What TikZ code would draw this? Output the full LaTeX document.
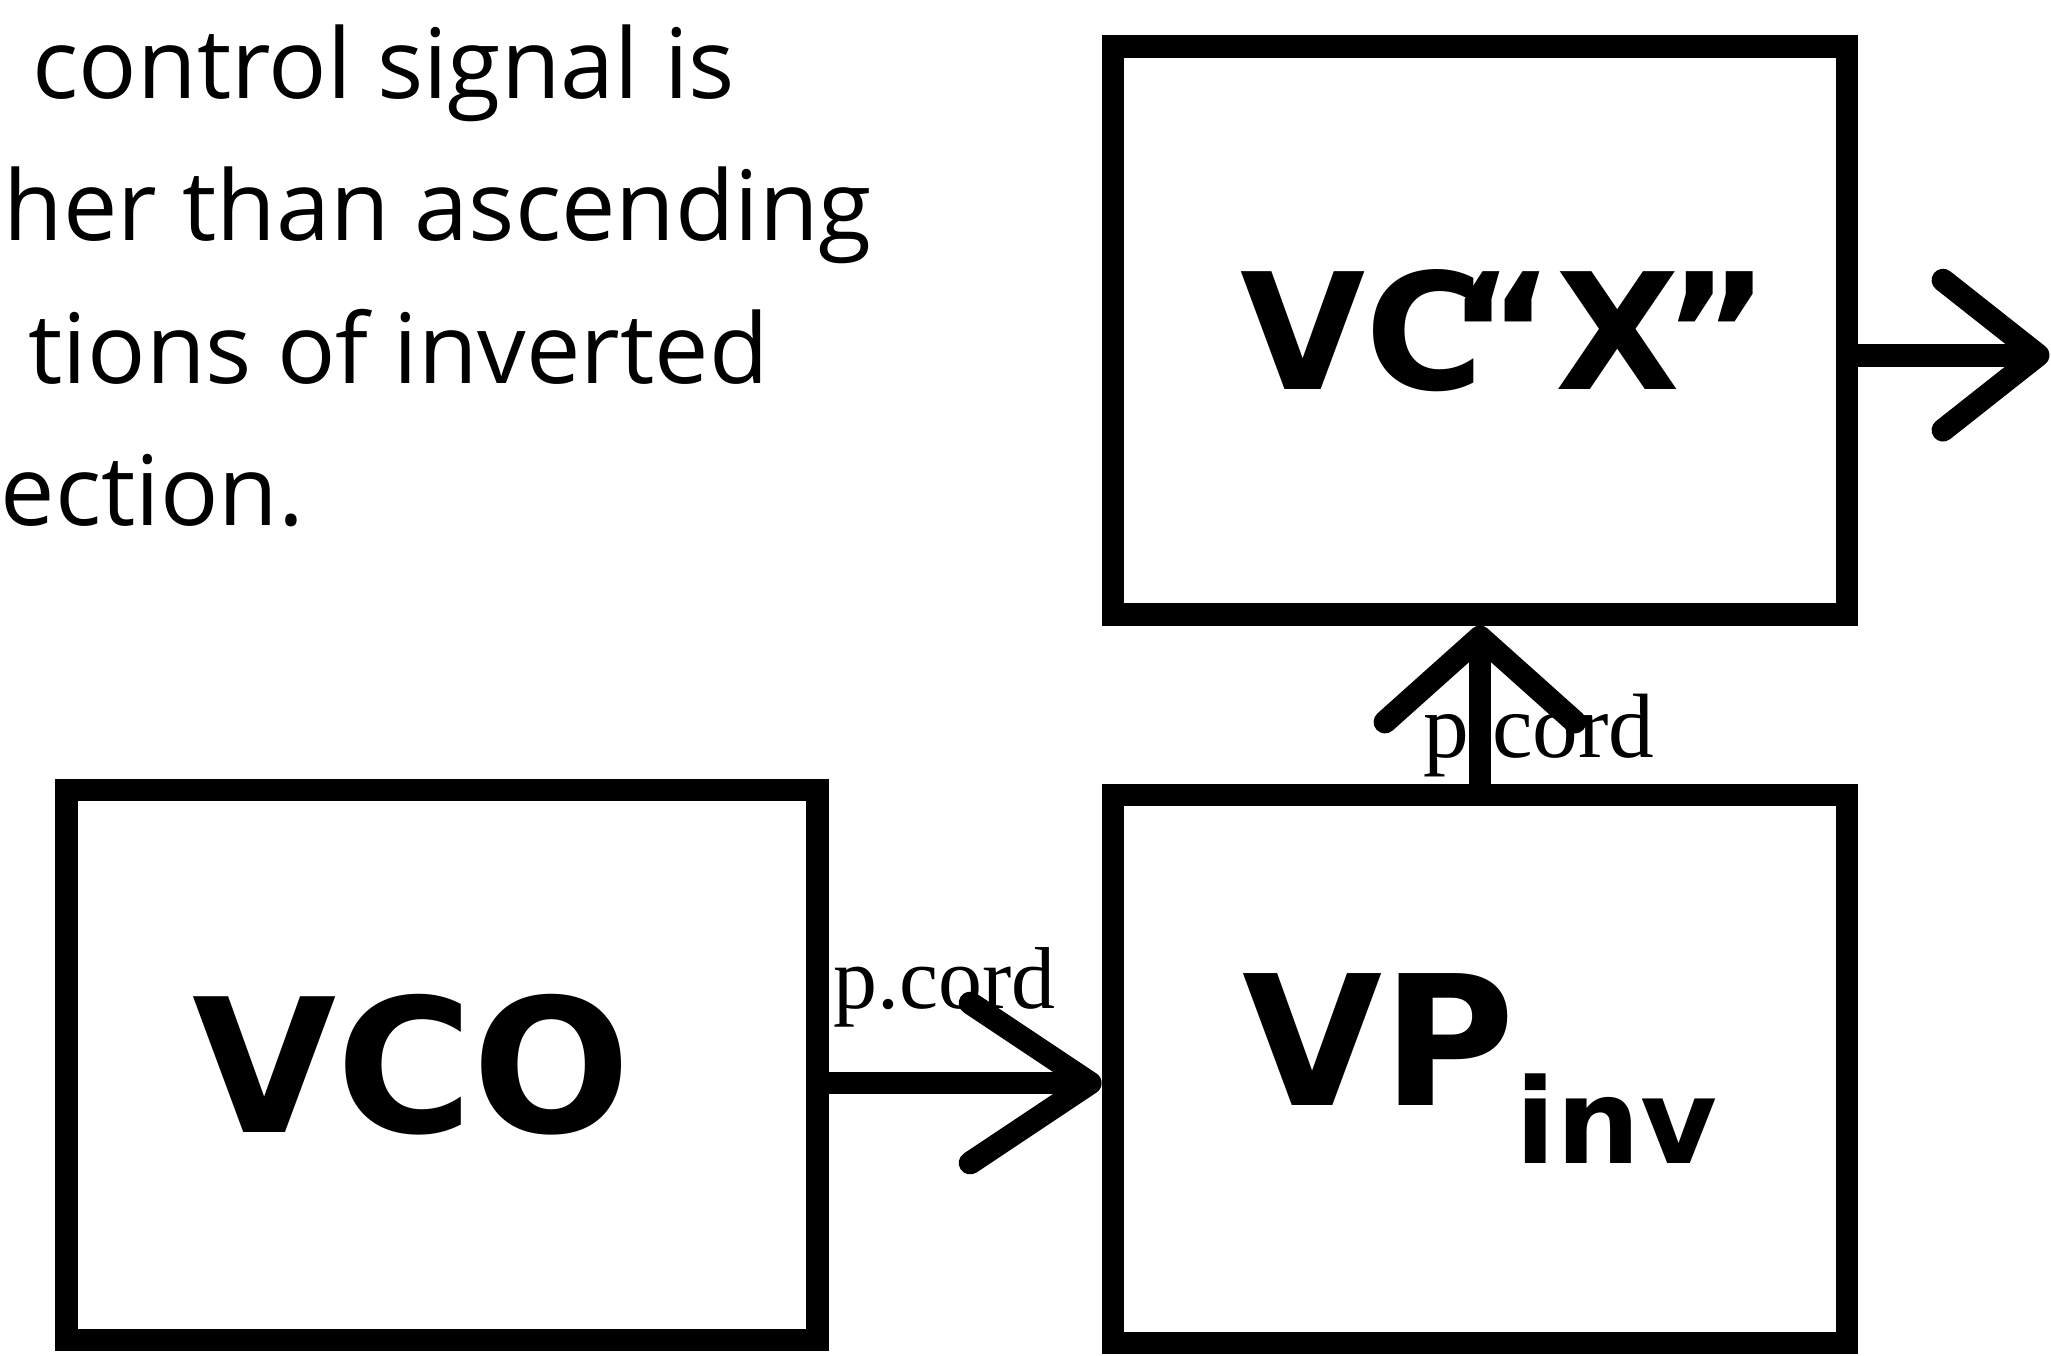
\documentclass[tikz,border=0pt]{standalone}
\usepackage{fontspec}
\setmainfont{Open Sans}
\newfontfamily\boxfont{DejaVu Sans}
\newfontfamily\cordfont{Liberation Serif}
\usetikzlibrary{arrows.meta, positioning}
\tikzset{
	blk/.style   ={rectangle, draw=black, line width=6.5pt, minimum width=7.34cm, minimum height=5.48cm, inner sep=0pt, align=center, font=\boxfont\bfseries\fontsize{51.5}{51.5}\selectfont},
	sig/.style   ={line width=6.5pt, -{Straight Barb[length=1.2cm, width=1.6cm, round]}},
	cordlbl/.style={anchor=base west, inner sep=0pt, font=\cordfont\fontsize{25}{25}\selectfont},
	body/.style  ={anchor=base west, inner sep=0pt, font=\fontsize{27.6}{40}\selectfont},
}

\begin{document}
\begin{tikzpicture}
	\useasboundingbox (0,0) rectangle (20.51,-13.56);
	% running text, cut off at the left edge
	\node[body] (l1) at (0.32,-0.98) {control signal is};
	\node[body] (l2) at (0.03,-2.40) {her than ascending};
	\node[body] (l3) at (0.28,-3.83) {tions of inverted};
	\node[body] (l4) at (0.0,-5.25) {ection.};
	% blocks
	\node[blk] (vp) at (14.80,-10.69) {VP\raisebox{-0.58cm}{\fontsize{33.6}{33.6}\selectfont inv}};
	\node[blk, minimum height=5.68cm, above=1.58cm of vp, font=\boxfont\bfseries\fontsize{46}{46}\selectfont] (vcx) {\hspace*{0.5cm}VC\kern-0.22em“X\kern-0.1em”};
	\node[blk, minimum width=7.51cm, minimum height=5.50cm, left=2.73cm of vp, yshift=0.04cm, font=\boxfont\bfseries\fontsize{53}{53}\selectfont] (vco) {VCO\hspace*{0.6cm}};
	% cord labels
	\node[cordlbl] (c1) at (8.33,-10.08) {p.cord};
	\node[cordlbl, font=\cordfont\fontsize{26}{26}\selectfont] (c2) at (14.23,-7.57) {p.cord};
	% signal paths
	\coordinate (h) at ([yshift=-0.18cm]vco.east);
	\draw[sig] (h) -- (h -| vp.west);
	\draw[sig, -{Straight Barb[length=0.85cm, width=1.9cm, round]}] (vp.north) -- (vcx.south);
	\coordinate (out) at ([xshift=1.91cm, yshift=-0.25cm]vcx.east);
	\draw[sig, -{Straight Barb[length=0.95cm, width=1.5cm, round]}] (out -| vcx.east) -- (out);
\end{tikzpicture}
\end{document}
